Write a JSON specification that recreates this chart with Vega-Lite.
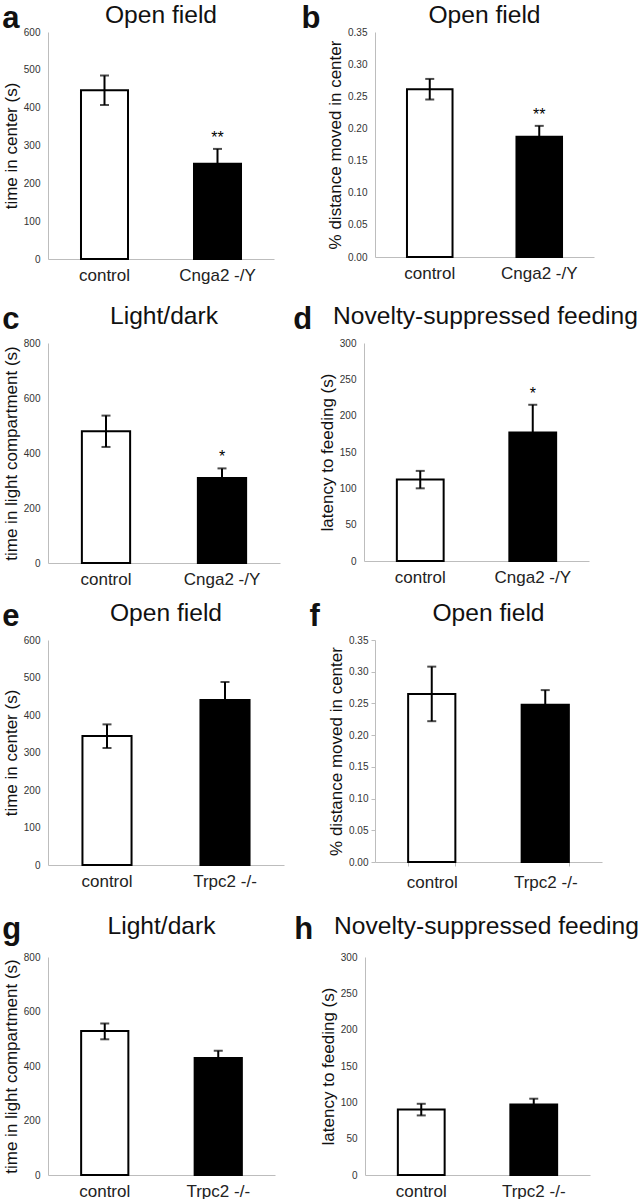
{
  "$schema": "https://vega.github.io/schema/vega-lite/v6.json",
  "padding": {"left": 2, "top": 3, "right": 0, "bottom": 0},
  "background": "white",
  "datasets": {
    "all": [
      {"panel": "a", "group": "control", "mean": 446, "lo": 407, "hi": 485, "sig": ""},
      {"panel": "a", "group": "Cnga2 -/Y", "mean": 252, "lo": 213, "hi": 291, "sig": "**"},
      {"panel": "b", "group": "control", "mean": 0.261, "lo": 0.245, "hi": 0.277, "sig": ""},
      {"panel": "b", "group": "Cnga2 -/Y", "mean": 0.187, "lo": 0.17, "hi": 0.204, "sig": "**"},
      {"panel": "c", "group": "control", "mean": 479, "lo": 422, "hi": 536, "sig": ""},
      {"panel": "c", "group": "Cnga2 -/Y", "mean": 309, "lo": 274, "hi": 344, "sig": "*"},
      {"panel": "d", "group": "control", "mean": 112, "lo": 100, "hi": 124, "sig": ""},
      {"panel": "d", "group": "Cnga2 -/Y", "mean": 177, "lo": 139, "hi": 215, "sig": "*"},
      {"panel": "e", "group": "control", "mean": 344, "lo": 312, "hi": 375, "sig": ""},
      {"panel": "e", "group": "Trpc2 -/-", "mean": 440, "lo": 392, "hi": 488, "sig": ""},
      {"panel": "f", "group": "control", "mean": 0.265, "lo": 0.222, "hi": 0.308, "sig": ""},
      {"panel": "f", "group": "Trpc2 -/-", "mean": 0.248, "lo": 0.224, "hi": 0.271, "sig": ""},
      {"panel": "g", "group": "control", "mean": 528, "lo": 498, "hi": 556, "sig": ""},
      {"panel": "g", "group": "Trpc2 -/-", "mean": 429, "lo": 402, "hi": 456, "sig": ""},
      {"panel": "h", "group": "control", "mean": 90, "lo": 82, "hi": 98, "sig": ""},
      {"panel": "h", "group": "Trpc2 -/-", "mean": 97, "lo": 89, "hi": 105, "sig": ""}
    ]
  },
  "spacing": 14,
  "vconcat": [
    {
      "spacing": 21,
      "vconcat": [
        {
          "spacing": 27,
          "hconcat": [
            {
              "title": {"text": "a", "anchor": "start", "frame": "bounds", "fontSize": 31, "fontWeight": "bold", "offset": -32},
              "vconcat": [{
                "title": {"text": "Open field", "offset": -2},
                "width": 226, "height": 227,
                "data": {"name": "all"},
                "transform": [{"filter": "datum.panel === 'a'"}],
                "encoding": {"x": {"field": "group", "type": "nominal", "sort": null, "title": null, "scale": {"paddingInner": 0.584, "paddingOuter": 0.292}}},
                "layer": [
                  {"mark": {"type": "bar", "stroke": "black", "strokeWidth": 2},
                   "encoding": {"y": {"field": "mean", "type": "quantitative", "title": "time in center (s)", "scale": {"domain": [0, 600], "nice": false}, "axis": {"values": [0, 100, 200, 300, 400, 500, 600], "tickCount": 20}},
                     "fill": {"field": "group", "type": "nominal", "scale": {"domain": ["control", "Cnga2 -/Y", "Trpc2 -/-"], "range": ["white", "black", "black"]}, "legend": null}}},
                  {"mark": {"type": "rule", "strokeWidth": 2, "color": "black"}, "encoding": {"y": {"field": "lo", "type": "quantitative"}, "y2": {"field": "hi"}}},
                  {"mark": {"type": "tick", "thickness": 2, "size": 9, "color": "black"}, "encoding": {"y": {"field": "hi", "type": "quantitative"}}},
                  {"mark": {"type": "tick", "thickness": 2, "size": 9, "color": "black"}, "encoding": {"y": {"field": "lo", "type": "quantitative"}}},
                  {"mark": {"type": "text", "baseline": "alphabetic", "dy": -6, "fontSize": 16, "color": "black"}, "encoding": {"y": {"field": "hi", "type": "quantitative"}, "text": {"field": "sig"}}}
                ]
              }]
            },
            {
              "title": {"text": "b", "anchor": "start", "frame": "bounds", "fontSize": 31, "fontWeight": "bold", "offset": -32, "dx": -25},
              "vconcat": [{
                "title": {"text": "Open field", "offset": -2},
                "width": 219, "height": 225,
                "data": {"name": "all"},
                "transform": [{"filter": "datum.panel === 'b'"}],
                "encoding": {"x": {"field": "group", "type": "nominal", "sort": null, "title": null, "scale": {"paddingInner": 0.584, "paddingOuter": 0.292}}},
                "layer": [
                  {"mark": {"type": "bar", "stroke": "black", "strokeWidth": 2},
                   "encoding": {"y": {"field": "mean", "type": "quantitative", "title": "% distance moved in center", "scale": {"domain": [0, 0.35], "nice": false}, "axis": {"values": [0, 0.05, 0.1, 0.15, 0.2, 0.25, 0.3, 0.35], "format": ".2f", "tickCount": 20}},
                     "fill": {"field": "group", "type": "nominal", "scale": {"domain": ["control", "Cnga2 -/Y", "Trpc2 -/-"], "range": ["white", "black", "black"]}, "legend": null}}},
                  {"mark": {"type": "rule", "strokeWidth": 2, "color": "black"}, "encoding": {"y": {"field": "lo", "type": "quantitative"}, "y2": {"field": "hi"}}},
                  {"mark": {"type": "tick", "thickness": 2, "size": 9, "color": "black"}, "encoding": {"y": {"field": "hi", "type": "quantitative"}}},
                  {"mark": {"type": "tick", "thickness": 2, "size": 9, "color": "black"}, "encoding": {"y": {"field": "lo", "type": "quantitative"}}},
                  {"mark": {"type": "text", "baseline": "alphabetic", "dy": -6, "fontSize": 16, "color": "black"}, "encoding": {"y": {"field": "hi", "type": "quantitative"}, "text": {"field": "sig"}}}
                ]
              }]
            }
          ]
        },
        {
          "spacing": 13,
          "hconcat": [
            {
              "title": {"text": "c", "anchor": "start", "frame": "bounds", "fontSize": 31, "fontWeight": "bold", "offset": -32},
              "vconcat": [{
                "title": {"text": "Light/dark", "offset": 8},
                "width": 232, "height": 220,
                "data": {"name": "all"},
                "transform": [{"filter": "datum.panel === 'c'"}],
                "encoding": {"x": {"field": "group", "type": "nominal", "sort": null, "title": null, "scale": {"paddingInner": 0.584, "paddingOuter": 0.292}}},
                "layer": [
                  {"mark": {"type": "bar", "stroke": "black", "strokeWidth": 2},
                   "encoding": {"y": {"field": "mean", "type": "quantitative", "title": "time in light compartment (s)", "scale": {"domain": [0, 800], "nice": false}, "axis": {"values": [0, 200, 400, 600, 800], "tickCount": 20}},
                     "fill": {"field": "group", "type": "nominal", "scale": {"domain": ["control", "Cnga2 -/Y", "Trpc2 -/-"], "range": ["white", "black", "black"]}, "legend": null}}},
                  {"mark": {"type": "rule", "strokeWidth": 2, "color": "black"}, "encoding": {"y": {"field": "lo", "type": "quantitative"}, "y2": {"field": "hi"}}},
                  {"mark": {"type": "tick", "thickness": 2, "size": 9, "color": "black"}, "encoding": {"y": {"field": "hi", "type": "quantitative"}}},
                  {"mark": {"type": "tick", "thickness": 2, "size": 9, "color": "black"}, "encoding": {"y": {"field": "lo", "type": "quantitative"}}},
                  {"mark": {"type": "text", "baseline": "alphabetic", "dy": -6, "fontSize": 16, "color": "black"}, "encoding": {"y": {"field": "hi", "type": "quantitative"}, "text": {"field": "sig"}}}
                ]
              }]
            },
            {
              "title": {"text": "d", "anchor": "start", "frame": "bounds", "fontSize": 31, "fontWeight": "bold", "offset": -32, "dx": -25},
              "vconcat": [{
                "title": {"text": "Novelty-suppressed feeding", "offset": 8, "dx": 9},
                "width": 225, "height": 218,
                "data": {"name": "all"},
                "transform": [{"filter": "datum.panel === 'd'"}],
                "encoding": {"x": {"field": "group", "type": "nominal", "sort": null, "title": null, "scale": {"paddingInner": 0.584, "paddingOuter": 0.292}}},
                "layer": [
                  {"mark": {"type": "bar", "stroke": "black", "strokeWidth": 2},
                   "encoding": {"y": {"field": "mean", "type": "quantitative", "title": "latency to feeding (s)", "scale": {"domain": [0, 300], "nice": false}, "axis": {"values": [0, 50, 100, 150, 200, 250, 300], "tickCount": 20}},
                     "fill": {"field": "group", "type": "nominal", "scale": {"domain": ["control", "Cnga2 -/Y", "Trpc2 -/-"], "range": ["white", "black", "black"]}, "legend": null}}},
                  {"mark": {"type": "rule", "strokeWidth": 2, "color": "black"}, "encoding": {"y": {"field": "lo", "type": "quantitative"}, "y2": {"field": "hi"}}},
                  {"mark": {"type": "tick", "thickness": 2, "size": 9, "color": "black"}, "encoding": {"y": {"field": "hi", "type": "quantitative"}}},
                  {"mark": {"type": "tick", "thickness": 2, "size": 9, "color": "black"}, "encoding": {"y": {"field": "lo", "type": "quantitative"}}},
                  {"mark": {"type": "text", "baseline": "alphabetic", "dy": -6, "fontSize": 16, "color": "black"}, "encoding": {"y": {"field": "hi", "type": "quantitative"}, "text": {"field": "sig"}}}
                ]
              }]
            }
          ]
        }
      ]
    },
    {
      "spacing": 24,
      "vconcat": [
        {
          "spacing": 25,
          "hconcat": [
            {
              "title": {"text": "e", "anchor": "start", "frame": "bounds", "fontSize": 31, "fontWeight": "bold", "offset": -32},
              "vconcat": [{
                "title": {"text": "Open field", "offset": 8},
                "width": 236, "height": 225,
                "data": {"name": "all"},
                "transform": [{"filter": "datum.panel === 'e'"}],
                "encoding": {"x": {"field": "group", "type": "nominal", "sort": null, "title": null, "scale": {"paddingInner": 0.584, "paddingOuter": 0.292}}},
                "layer": [
                  {"mark": {"type": "bar", "stroke": "black", "strokeWidth": 2},
                   "encoding": {"y": {"field": "mean", "type": "quantitative", "title": "time in center (s)", "scale": {"domain": [0, 600], "nice": false}, "axis": {"values": [0, 100, 200, 300, 400, 500, 600], "tickCount": 20}},
                     "fill": {"field": "group", "type": "nominal", "scale": {"domain": ["control", "Cnga2 -/Y", "Trpc2 -/-"], "range": ["white", "black", "black"]}, "legend": null}}},
                  {"mark": {"type": "rule", "strokeWidth": 2, "color": "black"}, "encoding": {"y": {"field": "lo", "type": "quantitative"}, "y2": {"field": "hi"}}},
                  {"mark": {"type": "tick", "thickness": 2, "size": 9, "color": "black"}, "encoding": {"y": {"field": "hi", "type": "quantitative"}}},
                  {"mark": {"type": "tick", "thickness": 2, "size": 9, "color": "black"}, "encoding": {"y": {"field": "lo", "type": "quantitative"}}}
                ]
              }]
            },
            {
              "title": {"text": "f", "anchor": "start", "frame": "bounds", "fontSize": 31, "fontWeight": "bold", "offset": -32, "dx": -18},
              "vconcat": [{
                "title": {"text": "Open field", "offset": 8},
                "width": 227, "height": 222,
                "data": {"name": "all"},
                "transform": [{"filter": "datum.panel === 'f'"}],
                "encoding": {"x": {"field": "group", "type": "nominal", "sort": null, "title": null, "scale": {"paddingInner": 0.584, "paddingOuter": 0.292}, "axis": {"ticks": true, "tickBand": "extent", "tickSize": 4, "tickColor": "#bdbdbd"}}},
                "layer": [
                  {"mark": {"type": "bar", "stroke": "black", "strokeWidth": 2},
                   "encoding": {"y": {"field": "mean", "type": "quantitative", "title": "% distance moved in center", "scale": {"domain": [0, 0.35], "nice": false}, "axis": {"values": [0, 0.05, 0.1, 0.15, 0.2, 0.25, 0.3, 0.35], "tickCount": 20, "format": ".2f", "ticks": true, "tickSize": 4, "tickColor": "#bdbdbd", "labelPadding": 3}},
                     "fill": {"field": "group", "type": "nominal", "scale": {"domain": ["control", "Cnga2 -/Y", "Trpc2 -/-"], "range": ["white", "black", "black"]}, "legend": null}}},
                  {"mark": {"type": "rule", "strokeWidth": 2, "color": "black"}, "encoding": {"y": {"field": "lo", "type": "quantitative"}, "y2": {"field": "hi"}}},
                  {"mark": {"type": "tick", "thickness": 2, "size": 9, "color": "black"}, "encoding": {"y": {"field": "hi", "type": "quantitative"}}},
                  {"mark": {"type": "tick", "thickness": 2, "size": 9, "color": "black"}, "encoding": {"y": {"field": "lo", "type": "quantitative"}}}
                ]
              }]
            }
          ]
        },
        {
          "spacing": 19,
          "hconcat": [
            {
              "title": {"text": "g", "anchor": "start", "frame": "bounds", "fontSize": 31, "fontWeight": "bold", "offset": -32},
              "vconcat": [{
                "title": {"text": "Light/dark", "offset": 12},
                "width": 227, "height": 218,
                "data": {"name": "all"},
                "transform": [{"filter": "datum.panel === 'g'"}],
                "encoding": {"x": {"field": "group", "type": "nominal", "sort": null, "title": null, "scale": {"paddingInner": 0.584, "paddingOuter": 0.292}}},
                "layer": [
                  {"mark": {"type": "bar", "stroke": "black", "strokeWidth": 2},
                   "encoding": {"y": {"field": "mean", "type": "quantitative", "title": "time in light compartment (s)", "scale": {"domain": [0, 800], "nice": false}, "axis": {"values": [0, 200, 400, 600, 800], "tickCount": 20}},
                     "fill": {"field": "group", "type": "nominal", "scale": {"domain": ["control", "Cnga2 -/Y", "Trpc2 -/-"], "range": ["white", "black", "black"]}, "legend": null}}},
                  {"mark": {"type": "rule", "strokeWidth": 2, "color": "black"}, "encoding": {"y": {"field": "lo", "type": "quantitative"}, "y2": {"field": "hi"}}},
                  {"mark": {"type": "tick", "thickness": 2, "size": 9, "color": "black"}, "encoding": {"y": {"field": "hi", "type": "quantitative"}}},
                  {"mark": {"type": "tick", "thickness": 2, "size": 9, "color": "black"}, "encoding": {"y": {"field": "lo", "type": "quantitative"}}}
                ]
              }]
            },
            {
              "title": {"text": "h", "anchor": "start", "frame": "bounds", "fontSize": 31, "fontWeight": "bold", "offset": -32, "dx": -25},
              "vconcat": [{
                "title": {"text": "Novelty-suppressed feeding", "offset": 12, "dx": 9},
                "width": 225, "height": 218,
                "data": {"name": "all"},
                "transform": [{"filter": "datum.panel === 'h'"}],
                "encoding": {"x": {"field": "group", "type": "nominal", "sort": null, "title": null, "scale": {"paddingInner": 0.584, "paddingOuter": 0.292}}},
                "layer": [
                  {"mark": {"type": "bar", "stroke": "black", "strokeWidth": 2},
                   "encoding": {"y": {"field": "mean", "type": "quantitative", "title": "latency to feeding (s)", "scale": {"domain": [0, 300], "nice": false}, "axis": {"values": [0, 50, 100, 150, 200, 250, 300], "tickCount": 20}},
                     "fill": {"field": "group", "type": "nominal", "scale": {"domain": ["control", "Cnga2 -/Y", "Trpc2 -/-"], "range": ["white", "black", "black"]}, "legend": null}}},
                  {"mark": {"type": "rule", "strokeWidth": 2, "color": "black"}, "encoding": {"y": {"field": "lo", "type": "quantitative"}, "y2": {"field": "hi"}}},
                  {"mark": {"type": "tick", "thickness": 2, "size": 9, "color": "black"}, "encoding": {"y": {"field": "hi", "type": "quantitative"}}},
                  {"mark": {"type": "tick", "thickness": 2, "size": 9, "color": "black"}, "encoding": {"y": {"field": "lo", "type": "quantitative"}}}
                ]
              }]
            }
          ]
        }
      ]
    }
  ],
  "config": {
    "font": "Liberation Sans",
    "view": {"stroke": null},
    "title": {"fontSize": 24.6, "fontWeight": "normal", "anchor": "middle", "frame": "group", "color": "#111", "font": "Liberation Sans"},
    "axis": {"grid": false, "domainColor": "#bdbdbd", "domainWidth": 1, "labelColor": "#333", "titleFontWeight": "normal", "titleColor": "#111", "labelFont": "Liberation Sans", "titleFont": "Liberation Sans"},
    "axisX": {"ticks": false, "labelAngle": 0, "labelFontSize": 17, "labelColor": "#222", "labelPadding": 8},
    "axisY": {"ticks": false, "labelFontSize": 10, "titleFontSize": 17, "labelPadding": 8, "titlePadding": 3, "labelOverlap": false}
  }
}
